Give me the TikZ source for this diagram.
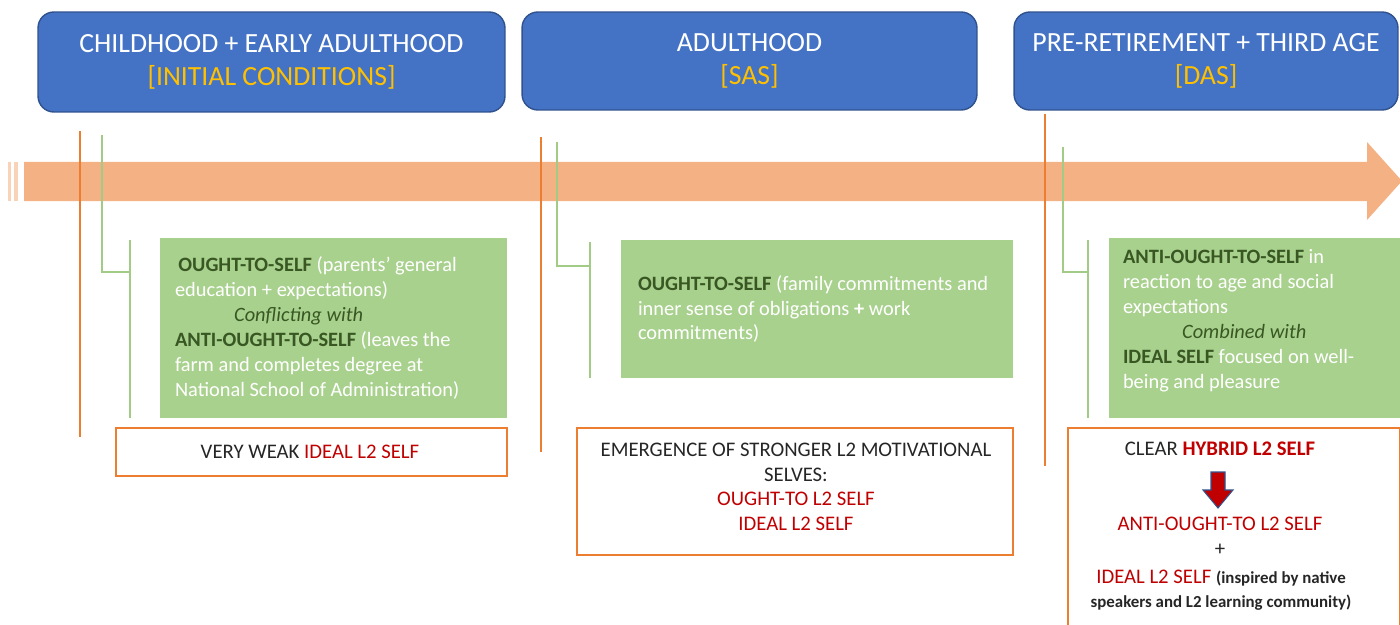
\documentclass[tikz,border=0pt]{standalone}
\usepackage{fontspec}
\setmainfont{Carlito}
\usetikzlibrary{positioning}
\definecolor{stageblue}{HTML}{4472C4}
\definecolor{stageedge}{HTML}{2F528F}
\definecolor{stagegold}{HTML}{FFC000}
\definecolor{timeline}{HTML}{F4B183}
\definecolor{timelinelight}{HTML}{F9D3B8}
\definecolor{tickorange}{HTML}{ED7D31}
\definecolor{selfgreen}{HTML}{A9D18E}
\definecolor{branchgreen}{HTML}{A2CB86}
\definecolor{darkgreen}{HTML}{385723}
\definecolor{selfred}{HTML}{C00000}
% bold dark green self label
\newcommand{\selflab}[1]{\textbf{\textcolor{darkgreen}{#1}}}
% red L2 self
\newcommand{\ltwo}[1]{\textcolor{selfred}{#1}}
\tikzset{
  % Life stage header
  stage/.style={draw=stageedge, fill=stageblue, rounded corners=9pt,
    line width=0.8pt, text=white, align=center,
    font=\fontsize{15.8}{18.8}\selectfont},
  % Green self box
  selfbox/.style={fill=selfgreen, inner sep=0pt},
  % Text in a self box
  selftext/.style={text=white, align=left, inner sep=0pt,
    font=\fontsize{11.6}{14.2}\selectfont},
  % Orange outcome box
  outcome/.style={draw=tickorange, fill=white, line width=1.1pt},
  % Text inside outcome box
  outtext/.style={align=center, text=black!85, inner sep=0pt,
    font=\fontsize{11.8}{14}\selectfont},
  % Orange tick on the timeline
  tick/.style={draw=tickorange, line width=1.1pt},
  % Green branch
  branch/.style={draw=branchgreen, line width=1.1pt},
}

\begin{document}
\begin{tikzpicture}[x=0.02cm, y=-0.02cm]
    \useasboundingbox (0,0) rectangle (1400,625);

    % timeline arrow
    \fill[timeline] (24,162) -- (1367,162) -- (1367,142) -- (1402,181)
      -- (1367,220) -- (1367,201) -- (24,201) -- cycle;
    \fill[timelinelight] (8,162) rectangle (11,201);
    \fill[timelinelight] (14,162) rectangle (18,201);

    % stage headers
    \node[stage, minimum width=9.34cm, minimum height=2cm] (early) at (271.5,62)
      {CHILDHOOD + EARLY ADULTHOOD\\\textcolor{stagegold}{[INITIAL CONDITIONS]}};
    \node[stage, minimum width=9.1cm, minimum height=1.96cm] (adult) at (749.5,61)
      {ADULTHOOD\\\textcolor{stagegold}{[SAS]}};
    \node[stage, minimum width=7.68cm, minimum height=1.96cm] (third) at (1206,61)
      {PRE-RETIREMENT + THIRD AGE\\\textcolor{stagegold}{[DAS]}};

    % green self boxes
    \node[selfbox, minimum width=6.94cm, minimum height=3.6cm] (self1) at (333.5,328) {};
    \node[selftext, right=0.3cm of self1.west] (selftext1)
      {\selflab{\,OUGHT-TO-SELF} (parents’ general\\
       education + expectations)\\
       \hspace*{2.9em}\textcolor{darkgreen}{\textit{Conflicting with}}\\
       \selflab{ANTI-OUGHT-TO-SELF} (leaves the\\
       farm and completes degree at\\
       National School of Administration)};
    \node[selfbox, minimum width=7.84cm, minimum height=2.76cm] (self2) at (817,309) {};
    \node[selftext, right=0.34cm of self2.west] (selftext2)
      {\selflab{OUGHT-TO-SELF} (family commitments and\\
       inner sense of obligations \textbf{+} work\\
       commitments)};
    \node[selfbox, minimum width=5.82cm, minimum height=3.6cm] (self3) at (1254.5,328) {};
    \node[selftext, right=0.28cm of self3.west, yshift=0.15cm] (selftext3)
      {\selflab{ANTI-OUGHT-TO-SELF} in\\
       reaction to age and social\\
       expectations\\
       \hspace*{2.9em}\textcolor{darkgreen}{\textit{Combined with}}\\
       \selflab{IDEAL SELF} focused on well-\\
       being and pleasure};

    % orange outcome boxes
    \node[outcome, minimum width=7.82cm, minimum height=0.96cm] (out1) at (311.5,452) {};
    \node[outtext] (weak) at (310,452) {VERY WEAK \ltwo{IDEAL L2 SELF}};
    \node[outcome, minimum width=8.72cm, minimum height=2.54cm] (out2) at (795,491.5) {};
    \node[outtext] (stronger) at (796,487)
      {EMERGENCE OF STRONGER L2 MOTIVATIONAL\\SELVES:\\
       \ltwo{OUGHT-TO L2 SELF}\\\ltwo{IDEAL L2 SELF}};
    \node[outcome, minimum width=6.64cm, minimum height=4cm] (out3) at (1234,528) {};
    \node[outtext] (hybrid) at (1220,449) {CLEAR \textbf{\ltwo{HYBRID L2 SELF}}};
    \node[outtext] (anti) at (1220,524) {\ltwo{ANTI-OUGHT-TO L2 SELF}};
    \node[outtext] (plus) at (1220,550) {+};
    \node[outtext] (ideal) at (1221,590)
      {\ltwo{IDEAL L2 SELF} {\fontsize{9.6}{13}\selectfont\bfseries(inspired by native}\\
       {\fontsize{9.6}{13}\selectfont\bfseries speakers and L2 learning community)}};

    % down arrow
    \filldraw[fill=selfred, draw=stageedge, line width=0.6pt]
      (1211,472) -- (1225,472) -- (1225,490) -- (1233,490) -- (1218,508)
      -- (1203,490) -- (1211,490) -- cycle;

    % ticks and branches
    \coordinate (t1a) at (80,131);   \coordinate (t1b) at (80,437);
    \coordinate (t2a) at (541,137);  \coordinate (t2b) at (541,452);
    \coordinate (t3a) at (1045,114); \coordinate (t3b) at (1045,466);
    \draw[tick] (t1a) -- (t1b);
    \draw[tick] (t2a) -- (t2b);
    \draw[tick] (t3a) -- (t3b);

    \coordinate (b1a) at (102,135);  \coordinate (b1b) at (130,272);
    \coordinate (b2a) at (557,142);  \coordinate (b2b) at (590,266);
    \coordinate (b3a) at (1063,147); \coordinate (b3b) at (1088,272);
    \draw[branch] (b1a) |- (b1b);
    \draw[branch] (b2a) |- (b2b);
    \draw[branch] (b3a) |- (b3b);
    \draw[branch] (130,240) -- (130,418);
    \draw[branch] (590,242) -- (590,378);
    \draw[branch] (1088,240) -- (1088,418);
\end{tikzpicture}
\end{document}
